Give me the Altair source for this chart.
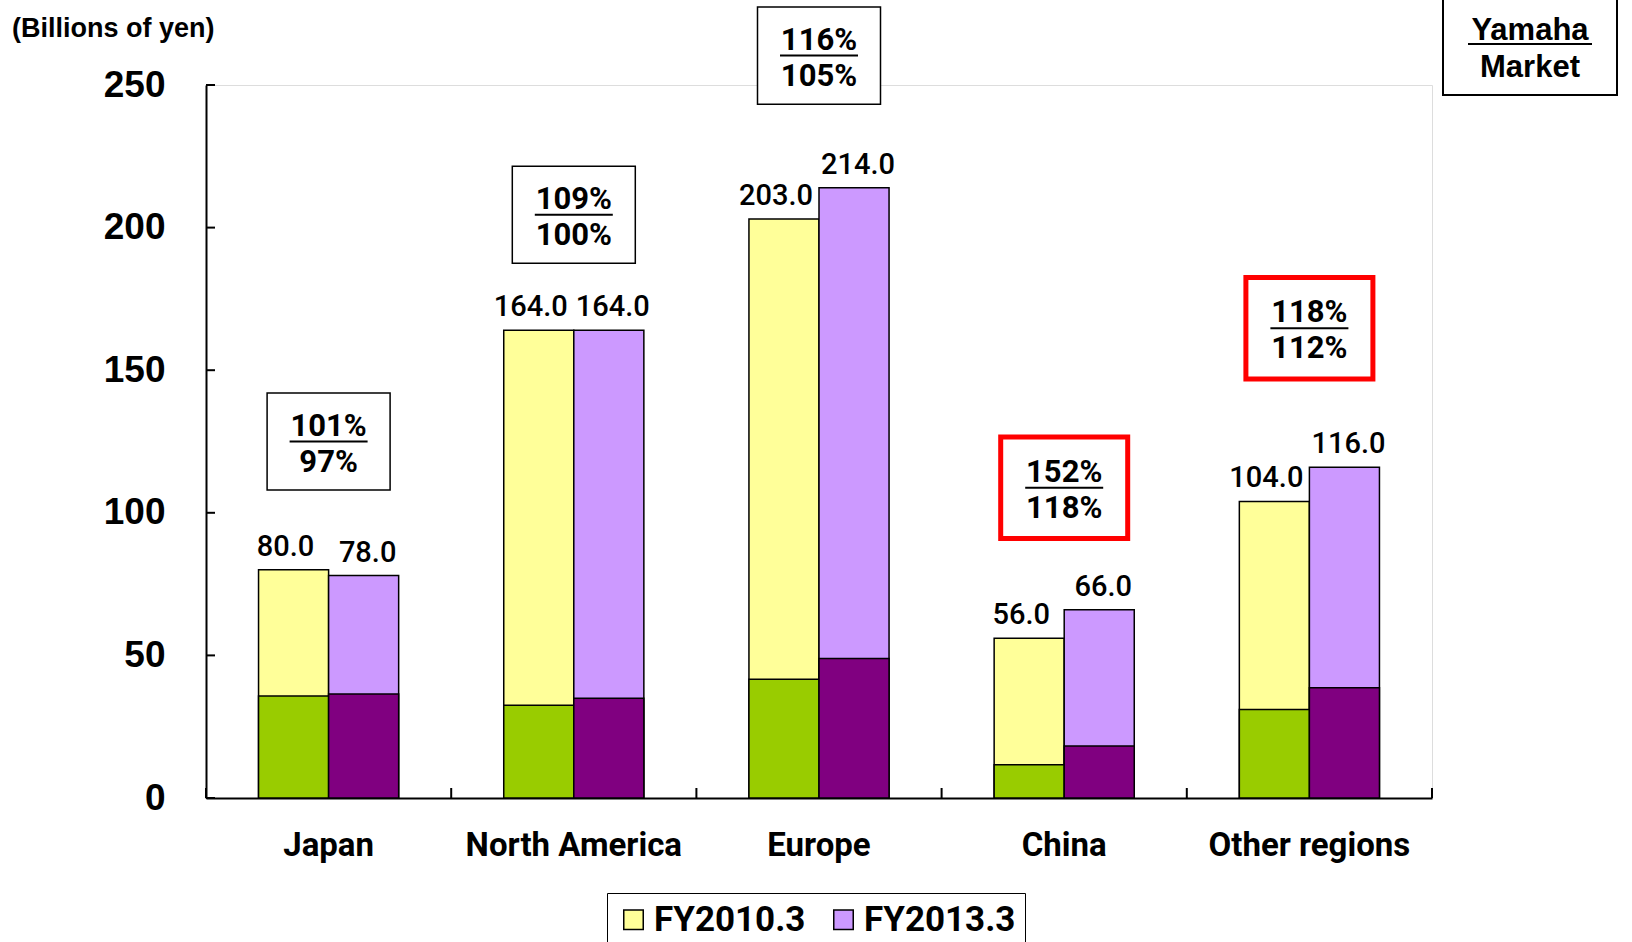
import altair as alt
import pandas as pd

regions = ["Japan", "North America", "Europe", "China", "Other regions"]
series = ["FY2010.3", "FY2013.3"]
market_2010 = [80.0, 164.0, 203.0, 56.0, 104.0]
market_2013 = [78.0, 164.0, 214.0, 66.0, 116.0]
yamaha_2010 = [35.8, 32.5, 41.6, 11.7, 31.0]
yamaha_2013 = [36.5, 35.0, 48.9, 18.2, 38.7]
yamaha_growth = ["101%", "109%", "116%", "152%", "118%"]
market_growth = ["97%", "100%", "105%", "118%", "112%"]
box_level = [125.0, 204.5, 260.3, 108.8, 164.7]
highlighted = [False, False, False, True, True]
y_ticks = [0, 50, 100, 150, 200, 250]

rows = []
for i, r in enumerate(regions):
    rows.append({"region": r, "series": series[0], "market": market_2010[i], "yamaha": yamaha_2010[i]})
    rows.append({"region": r, "series": series[1], "market": market_2013[i], "yamaha": yamaha_2013[i]})
df = pd.DataFrame(rows)
df["label"] = df["market"].map(lambda v: f"{v:.1f}")

box_df = pd.DataFrame({"region": regions, "level": box_level, "yg": yamaha_growth,
                       "mg": market_growth, "hl": highlighted})
tick_df = pd.DataFrame({"v": y_ticks})
reg_df = pd.DataFrame({"region": regions})

W, H = 1226, 713
NUM_FONT = "Roboto"
AX_FONT = "Liberation Sans"

xscale = alt.Scale(domain=regions, paddingInner=0, paddingOuter=0)
yscale = alt.Scale(domain=[0, 250], nice=False)
X = alt.X("region:N", sort=regions, scale=xscale,
          axis=alt.Axis(title=None, tickSize=0, labelAngle=0, labelFont=NUM_FONT,
                        labelFontWeight="bold", labelFontSize=33, labelColor="black",
                        labelPadding=31, labelLimit=0, domainColor="black", domainWidth=2))
XO = alt.XOffset("series:N", scale=alt.Scale(domain=series, paddingInner=0, paddingOuter=0.75))
Y = alt.Y("market:Q", scale=yscale,
          axis=alt.Axis(title=None, values=y_ticks, tickSize=0, grid=False,
                        domainColor="black", domainWidth=2, labelFont=AX_FONT,
                        labelFontWeight="bold", labelFontSize=37, labelColor="black",
                        labelPadding=41))

base = alt.Chart(df)
market_bars = base.mark_bar(stroke="black", strokeWidth=1.5).encode(
    x=X, xOffset=XO, y=Y,
    fill=alt.Fill("series:N", scale=alt.Scale(domain=series, range=["#FFFF99", "#CC99FF"]),
                  legend=alt.Legend(title=None, orient="none", legendX=401, legendY=808,
                                    direction="horizontal", symbolType="square",
                                    symbolSize=380, symbolStrokeColor="black",
                                    symbolStrokeWidth=1.5, labelFont=NUM_FONT,
                                    labelFontWeight="bold", labelFontSize=35,
                                    labelColor="black", strokeColor="black",
                                    fillColor="white", padding=9, labelOffset=3,
                                    columnPadding=20, labelLimit=0)),
)
yamaha_bars = base.mark_bar(stroke="black", strokeWidth=1.5).encode(
    x=alt.X("region:N", sort=regions), xOffset=XO,
    y=alt.Y("yamaha:Q", scale=yscale),
    fill=alt.condition(alt.datum.series == "FY2010.3", alt.value("#99CC00"), alt.value("#800080")),
)
lbl_left = base.transform_filter(alt.datum.series == "FY2010.3").mark_text(
    font=NUM_FONT, fontSize=29, fontWeight=500, baseline="alphabetic", dy=-14, dx=-8,
    color="black"
).encode(x=alt.X("region:N", sort=regions), xOffset=XO,
         y=alt.Y("market:Q", scale=yscale), text="label:N")
lbl_right = base.transform_filter(alt.datum.series == "FY2013.3").mark_text(
    font=NUM_FONT, fontSize=29, fontWeight=500, baseline="alphabetic", dy=-14, dx=4,
    color="black"
).encode(x=alt.X("region:N", sort=regions), xOffset=XO,
         y=alt.Y("market:Q", scale=yscale), text="label:N")

bbase = alt.Chart(box_df).encode(x=alt.X("region:N", sort=regions),
                                 y=alt.Y("level:Q", scale=yscale))
box_black = bbase.transform_filter("!datum.hl").mark_point(
    shape="M-1,-0.79L1,-0.79L1,0.79L-1,0.79Z", size=123 * 123, filled=True,
    fill="white", stroke="black", strokeWidth=1.5, opacity=1)
box_red = bbase.transform_filter("datum.hl").mark_point(
    shape="M-1,-0.8L1,-0.8L1,0.8L-1,0.8Z", size=127 * 127, filled=True,
    fill="white", stroke="#FF0000", strokeWidth=5, opacity=1)
txt_top = bbase.mark_text(font=NUM_FONT, fontSize=31, fontWeight="bold",
                          baseline="alphabetic", dy=-6, color="black").encode(text="yg:N")
txt_bot = bbase.mark_text(font=NUM_FONT, fontSize=31, fontWeight="bold",
                          baseline="alphabetic", dy=30, color="black").encode(text="mg:N")
underline = bbase.mark_point(shape="M-1,0L1,0", size=78 * 78, stroke="black",
                             strokeWidth=2, yOffset=0, opacity=1)

yt = alt.Chart(tick_df).mark_rule(color="black", strokeWidth=2).encode(
    y=alt.Y("v:Q", scale=yscale), x=alt.value(0), x2=alt.value(9))
xt = alt.Chart(reg_df).mark_rule(color="black", strokeWidth=2).encode(
    x=alt.X("region:N", sort=regions, bandPosition=0), y=alt.value(H), y2=alt.value(H - 10))
xt_end = alt.Chart(reg_df.head(1)).mark_rule(color="black", strokeWidth=2).encode(
    x=alt.value(W), y=alt.value(H), y2=alt.value(H - 10))

unit = alt.Chart(pd.DataFrame({"t": ["(Billions of yen)"]})).mark_text(
    font=AX_FONT, fontWeight="bold", fontSize=27, align="left", baseline="middle",
    color="black").encode(text="t:N", x=alt.value(-194), y=alt.value(-56))

ym_box = alt.Chart(reg_df.head(1)).mark_rect(fill="white", stroke="black", strokeWidth=2).encode(
    x=alt.value(1237), x2=alt.value(1411), y=alt.value(-95), y2=alt.value(10))
ym_txt1 = alt.Chart(pd.DataFrame({"t": ["Yamaha"]})).mark_text(
    font=AX_FONT, fontWeight="bold", fontSize=31, baseline="alphabetic", color="black"
).encode(text="t:N", x=alt.value(1324), y=alt.value(-45))
ym_txt2 = alt.Chart(pd.DataFrame({"t": ["Market"]})).mark_text(
    font=AX_FONT, fontWeight="bold", fontSize=31, baseline="alphabetic", color="black"
).encode(text="t:N", x=alt.value(1324), y=alt.value(-8))
ym_ul = alt.Chart(reg_df.head(1)).mark_rule(color="black", strokeWidth=2).encode(
    x=alt.value(1262), x2=alt.value(1386), y=alt.value(-41))

chart = alt.layer(
    market_bars, yamaha_bars, lbl_left, lbl_right, yt, xt, xt_end,
    box_black, box_red, underline, txt_top, txt_bot,
    unit, ym_box, ym_txt1, ym_txt2, ym_ul,
).properties(
    width=W, height=H,
    autosize=alt.AutoSizeParams(type="none"),
    padding={"left": 206, "top": 85, "right": 200, "bottom": 144},
).configure_view(stroke=None).configure(background="white")

chart.save("out.html", embed_options={"renderer": "svg", "actions": False})
